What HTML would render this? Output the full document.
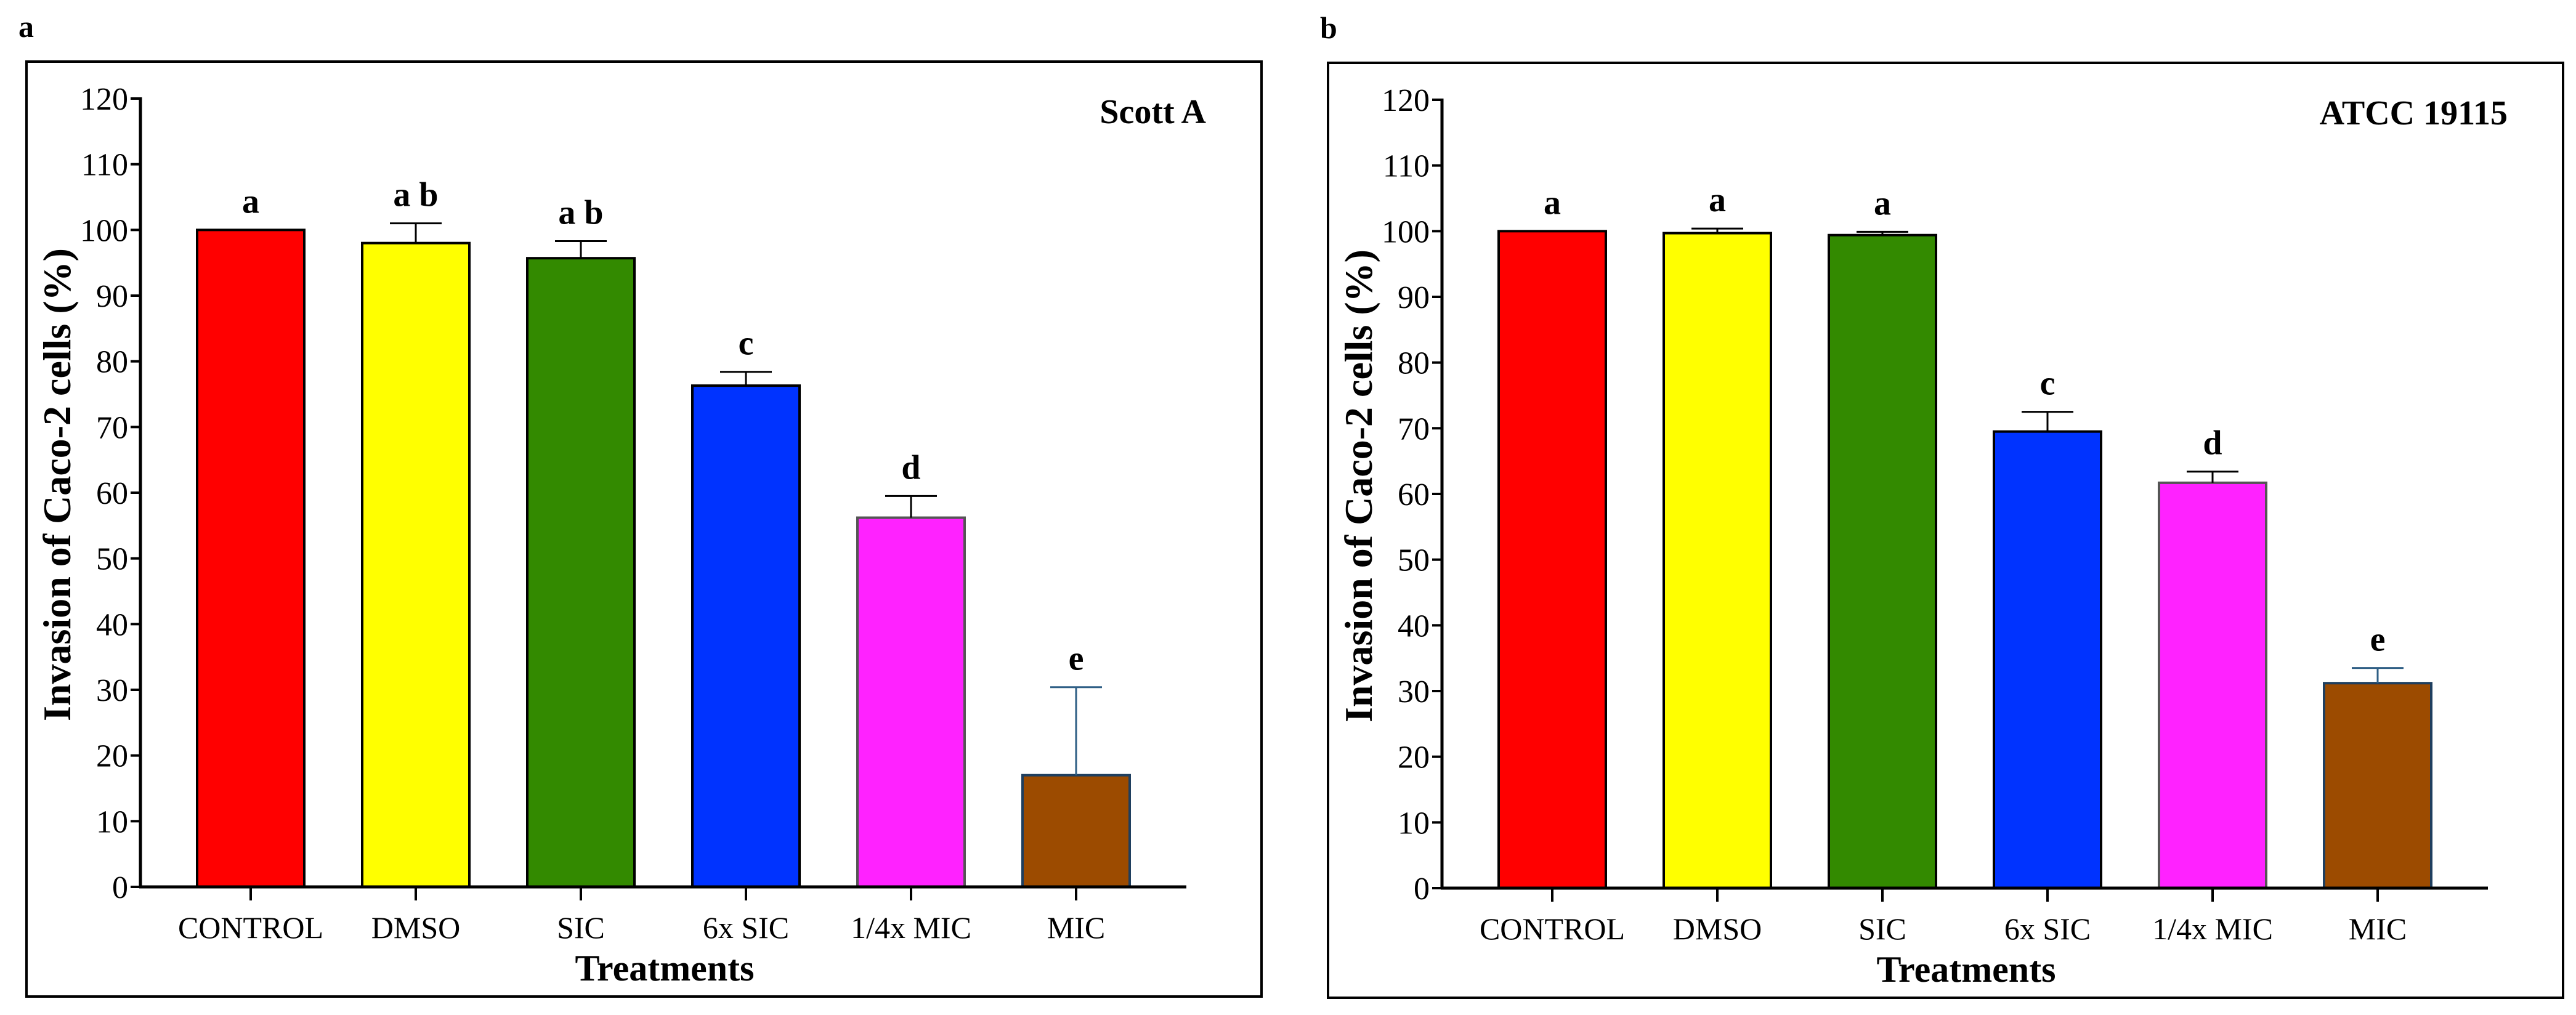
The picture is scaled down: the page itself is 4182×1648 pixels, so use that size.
<!DOCTYPE html>
<html><head><meta charset="utf-8"><style>
html,body{margin:0;padding:0;background:#fff;}
svg{display:block;}
text{font-family:"Liberation Serif","Times New Roman",serif;fill:#000;}
</style></head><body>
<svg id="chart" width="4182" height="1648" viewBox="0 0 4182 1648" xmlns="http://www.w3.org/2000/svg"></svg>
<script>
const categories = ["CONTROL","DMSO","SIC","6x SIC","1/4x MIC","MIC"];
const colors = ["#ff0000","#ffff00","#338a00","#0033ff","#ff22ff","#9c4b00"];
const strokes = ["#000","#000","#000","#000","#555","#1f3f5f"];
const valuesA = [100, 98, 95.7, 76.3, 56.2, 17];
const errTopA = [100, 101, 98.3, 78.4, 59.5, 30.4];
const lettersA = ["a","a b","a b","c","d","e"];
const valuesB = [100, 99.7, 99.4, 69.5, 61.7, 31.2];
const errTopB = [100, 100.4, 99.9, 72.5, 63.4, 33.5];
const lettersB = ["a","a","a","c","d","e"];
const yTicks = [0,10,20,30,40,50,60,70,80,90,100,110,120];

const svg = document.getElementById('chart');
const NS = "http://www.w3.org/2000/svg";
function mk(tag, attrs, parent, txt){
  const e = document.createElementNS(NS, tag);
  for (const k in attrs) e.setAttribute(k, attrs[k]);
  if (txt !== undefined) e.textContent = txt;
  parent.appendChild(e);
  return e;
}

function panel(dx, dy, pid, strain, values, errTop, letters){
  const g = mk('g', {transform:`translate(${dx},${dy})`}, svg);
  
  
  const axX = 228, y0 = 1440, yTop = 160;
  const yS = v => y0 - (v/120)*(y0-yTop);
  const xC = i => 407 + 268*i;
  const bw = 174;

  const pl = mk('text', {x:30, y:60, 'font-size':50, 'font-weight':'bold'}, g, pid);
  
  

  const fr = mk('rect', {x:43, y:100, width:2005, height:1518, fill:'none', stroke:'#000', 'stroke-width':4}, g);
  
  

  const st = mk('text', {x:1958, y:200, 'font-size':56, 'font-weight':'bold', 'text-anchor':'end'}, g, strain);
  
  

  values.forEach((v,i)=>{
    const r = mk('rect', {x:xC(i)-bw/2, y:yS(v), width:bw, height:y0-yS(v), fill:colors[i], stroke:strokes[i], 'stroke-width':4}, g);
    
    
    if (errTop[i] > v + 0.2){
      const ec = i===5 ? '#2f5f85' : '#000';
      const e1 = mk('line', {x1:xC(i), x2:xC(i), y1:yS(v), y2:yS(errTop[i]), stroke:ec, 'stroke-width':3}, g);
      
      
      const e2 = mk('line', {x1:xC(i)-42, x2:xC(i)+42, y1:yS(errTop[i]), y2:yS(errTop[i]), stroke:ec, 'stroke-width':3}, g);
      
      
    }
    const lt = mk('text', {x:xC(i), y:yS(errTop[i])-28, 'font-size':56, 'font-weight':'bold', 'text-anchor':'middle'}, g, letters[i]);
    
    
    const tk = mk('line', {x1:xC(i), x2:xC(i), y1:y0, y2:y0+22, stroke:'#000', 'stroke-width':4}, g);
    
    
    const xl = mk('text', {x:xC(i), y:y0+83, 'font-size':50, 'text-anchor':'middle'}, g, categories[i]);
    
    
  });

  const ya = mk('line', {x1:axX, x2:axX, y1:yTop-2, y2:y0+2, stroke:'#000', 'stroke-width':5}, g);
  
  
  const xa = mk('line', {x1:axX-2, x2:1926, y1:y0, y2:y0, stroke:'#000', 'stroke-width':5}, g);
  
  
  yTicks.forEach(t=>{
    const l = mk('line', {x1:axX-16, x2:axX, y1:yS(t), y2:yS(t), stroke:'#000', 'stroke-width':4}, g);
    
    
    const tl = mk('text', {x:axX-20, y:yS(t)+18, 'font-size':52, 'text-anchor':'end'}, g, String(t));
    
    
  });
  const yt = mk('text', {x:0, y:0, 'font-size':64, 'font-weight':'bold', 'text-anchor':'middle', transform:`translate(114,787) rotate(-90)`}, g, 'Invasion of Caco-2 cells (%)');
  
  
  const xt = mk('text', {x:1079, y:1592, 'font-size':60, 'font-weight':'bold', 'text-anchor':'middle'}, g, 'Treatments');
  
  
}

panel(0, 0, 'a', 'Scott A', valuesA, errTopA, lettersA);
panel(2113, 2, 'b', 'ATCC 19115', valuesB, errTopB, lettersB);
</script>
</body></html>
